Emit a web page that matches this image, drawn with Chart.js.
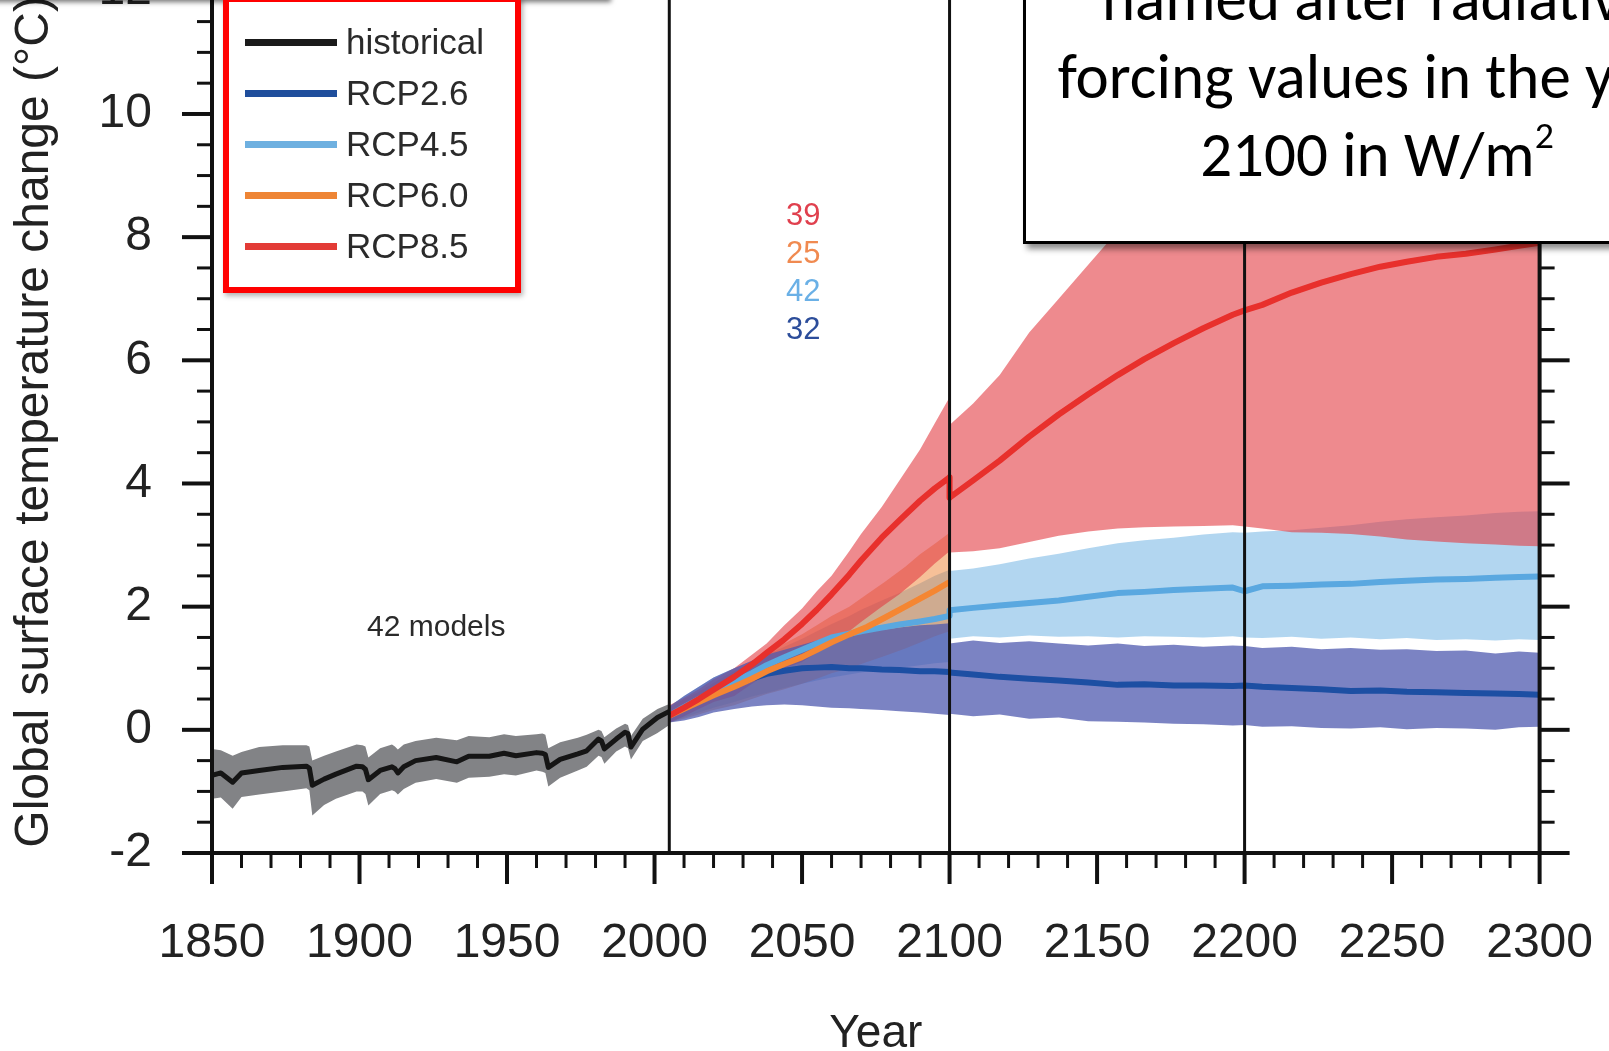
<!DOCTYPE html>
<html>
<head>
<meta charset="utf-8">
<script src="https://cdn.jsdelivr.net/npm/chart.js@4/dist/chart.umd.min.js"></script>
<style>
  html, body { margin:0; padding:0; background:#fff; overflow:hidden; width:1609px; height:1051px; }
  #wrap { position:absolute; left:0; top:-98px; width:1655px; height:1178px; }
  #topShadow { position:absolute; left:-10px; top:-50px; width:621px; height:50px; background:#fff;
               box-shadow:0 2px 5px rgba(0,0,0,0.55); }
  #legend { position:absolute; left:223px; top:-4px; width:298px; height:297px; border:6px solid #ff0000;
            box-sizing:border-box; background:#fff; box-shadow:2px 3px 5px rgba(0,0,0,0.3); }
  .lrow { position:absolute; left:0; height:40px; }
  .lline { position:absolute; left:16px; top:17px; width:92px; height:7px; }
  .ltext { position:absolute; left:117px; top:0; line-height:40px; font-family:"Liberation Sans", Arial, sans-serif;
           font-size:35px; color:#2a2a2a; white-space:nowrap; }
  #note { position:absolute; left:1023px; top:-100px; width:708px; height:344px; box-sizing:border-box;
          border:3px solid #000; background:#fff; box-shadow:4px 5px 6px rgba(0,0,0,0.45);
          font-family:Carlito, Calibri, Lato, "Open Sans", sans-serif; font-size:63px; line-height:78px;
          text-align:center; color:#000; padding-top:57px; }
  #note sup { font-size:0.6em; line-height:0; vertical-align:0.75em; }
</style>
</head>
<body>
<div id="wrap"><canvas id="c" width="1655" height="1178"></canvas></div>
<div id="topShadow"></div>
<div id="legend"></div>
<div id="note">named after radiative<br>forcing values in the year<br>2100 in W/m<sup>2</sup></div>
<script>
// ---------------- DATA ----------------
const histYears = [1850,1853,1857,1860,1866,1874,1882,1883,1884,1888,1892,1899,1901,1902,1903,1907,1911,1912,1913,1915,1919,1926,1933,1937,1944,1949,1953,1960,1962,1963,1964,1968,1974,1977,1981,1982,1983,1987,1990,1991,1992,1996,2001,2005];
const histMean = [-0.74,-0.70,-0.85,-0.70,-0.66,-0.61,-0.59,-0.62,-0.90,-0.80,-0.72,-0.59,-0.60,-0.64,-0.81,-0.66,-0.60,-0.63,-0.70,-0.60,-0.50,-0.45,-0.52,-0.43,-0.43,-0.38,-0.42,-0.37,-0.38,-0.40,-0.61,-0.48,-0.39,-0.34,-0.15,-0.18,-0.31,-0.15,-0.04,-0.06,-0.28,0.01,0.20,0.30];
const histHigh = [-0.31,-0.33,-0.42,-0.36,-0.28,-0.25,-0.25,-0.27,-0.50,-0.42,-0.35,-0.24,-0.25,-0.27,-0.45,-0.30,-0.24,-0.27,-0.32,-0.24,-0.18,-0.13,-0.17,-0.10,-0.12,-0.07,-0.10,-0.07,-0.06,-0.08,-0.30,-0.20,-0.13,-0.08,0.00,-0.02,-0.12,0.02,0.10,0.08,-0.10,0.18,0.34,0.42];
const histLow = [-1.12,-1.10,-1.28,-1.09,-1.05,-1.00,-0.95,-0.98,-1.39,-1.22,-1.12,-1.00,-1.00,-1.04,-1.23,-1.04,-0.98,-1.00,-1.05,-0.96,-0.86,-0.80,-0.86,-0.78,-0.76,-0.72,-0.74,-0.66,-0.68,-0.70,-0.92,-0.78,-0.66,-0.60,-0.42,-0.44,-0.55,-0.35,-0.27,-0.30,-0.48,-0.18,-0.05,0.08];

const futureYears = [2005,2010,2015,2020,2027,2033,2038,2044,2050,2055,2060,2066,2070,2077,2083,2090,2095,2100,
                     2100,2108,2117,2127,2137,2147,2157,2166,2176,2186,2196,2200,2206,2216,2226,2236,2246,2255,2265,2275,2285,2293,2300];

const rcp26Mean = [0.23,0.36,0.48,0.60,0.72,0.83,0.91,0.96,1.00,1.01,1.02,1.00,1.00,0.98,0.97,0.95,0.95,0.94,
                   0.93,0.90,0.86,0.83,0.80,0.77,0.73,0.74,0.72,0.72,0.71,0.72,0.70,0.68,0.66,0.63,0.64,0.62,0.61,0.60,0.59,0.58,0.57];
const rcp26Low  = [0.12,0.15,0.21,0.28,0.34,0.38,0.40,0.41,0.40,0.38,0.36,0.35,0.34,0.32,0.30,0.28,0.26,0.24,
                   0.26,0.22,0.25,0.18,0.20,0.14,0.13,0.12,0.10,0.09,0.07,0.08,0.05,0.06,0.03,0.02,0.04,0.01,0.03,0.02,0.00,0.04,0.05];
const rcp26High = [0.38,0.55,0.70,0.85,1.00,1.12,1.22,1.30,1.38,1.45,1.51,1.55,1.58,1.62,1.66,1.70,1.71,1.73,
                   1.40,1.45,1.41,1.44,1.40,1.37,1.40,1.36,1.38,1.35,1.37,1.36,1.33,1.35,1.31,1.33,1.30,1.31,1.28,1.29,1.24,1.27,1.25];

const rcp45Mean = [0.23,0.37,0.50,0.63,0.78,0.92,1.05,1.18,1.30,1.40,1.50,1.56,1.60,1.66,1.71,1.76,1.80,1.85,
                   1.94,1.98,2.02,2.06,2.10,2.16,2.22,2.24,2.27,2.29,2.31,2.25,2.33,2.34,2.36,2.37,2.40,2.42,2.44,2.45,2.47,2.48,2.49];
const rcp45Low  = [0.12,0.20,0.28,0.36,0.45,0.54,0.60,0.68,0.75,0.80,0.85,0.90,0.93,0.97,1.01,1.05,1.08,1.10,
                   1.48,1.52,1.50,1.53,1.51,1.52,1.50,1.52,1.51,1.50,1.52,1.50,1.49,1.51,1.48,1.50,1.47,1.49,1.46,1.47,1.45,1.47,1.46];
const rcp45High = [0.38,0.55,0.70,0.85,1.00,1.12,1.22,1.35,1.48,1.60,1.72,1.85,1.95,2.10,2.22,2.38,2.50,2.60,
                   2.58,2.62,2.69,2.78,2.86,2.95,3.03,3.08,3.12,3.17,3.21,3.20,3.22,3.24,3.28,3.32,3.38,3.42,3.45,3.48,3.52,3.54,3.55];

const rcp85Mean = [0.23,0.36,0.50,0.65,0.86,1.06,1.25,1.47,1.72,1.95,2.20,2.52,2.75,3.12,3.40,3.72,3.92,4.10,
                   3.77,4.05,4.37,4.76,5.12,5.45,5.76,6.02,6.28,6.52,6.74,6.81,6.90,7.10,7.26,7.40,7.52,7.60,7.68,7.73,7.80,7.86,7.91];
const rcp85Low  = [0.12,0.22,0.34,0.45,0.55,0.75,0.90,1.00,1.10,1.25,1.42,1.60,1.75,2.00,2.20,2.48,2.70,2.90,
                   2.88,2.90,2.95,3.05,3.15,3.22,3.27,3.29,3.30,3.31,3.32,3.30,3.27,3.21,3.20,3.18,3.14,3.09,3.06,3.03,3.01,2.99,2.98];
const rcp85High = [0.40,0.52,0.66,0.82,1.00,1.22,1.40,1.70,1.97,2.25,2.50,2.90,3.18,3.62,4.05,4.55,4.98,5.40,
                   4.95,5.30,5.76,6.45,7.00,7.55,8.10,8.55,8.95,9.30,9.60,9.70,9.85,10.1,10.3,10.5,10.7,10.85,11.0,11.15,11.3,11.4,11.5];

const rcp60Years = [2005,2010,2015,2020,2027,2033,2038,2044,2050,2055,2060,2066,2072,2078,2085,2090,2095,2100];
const rcp60Mean  = [0.23,0.34,0.45,0.56,0.70,0.83,0.95,1.07,1.18,1.30,1.42,1.55,1.67,1.82,2.00,2.13,2.26,2.40];
const rcp60Low   = [0.12,0.18,0.25,0.32,0.40,0.50,0.58,0.66,0.75,0.83,0.92,1.00,1.10,1.20,1.32,1.42,1.52,1.60];
const rcp60High  = [0.36,0.50,0.62,0.76,0.95,1.10,1.24,1.40,1.55,1.70,1.85,2.00,2.20,2.40,2.65,2.85,3.02,3.20];

const seriesNames = ['historical','RCP2.6','RCP4.5','RCP6.0','RCP8.5'];
const modelCounts = ['39','25','42','32'];   // RCP8.5, RCP6.0, RCP4.5, RCP2.6
const modelsNote = '42 models';
const dividerYears = [2005, 2100, 2200];
const xMin = 1850, xMax = 2300, yMin = -2, yMax = 12;

// ---------------- STYLE ----------------
const lineColors = { 'historical':'#151515', 'RCP2.6':'#1d4fa3', 'RCP4.5':'#5aa8e0', 'RCP6.0':'#f58632', 'RCP8.5':'#e8302c' };
const legendColors = { 'historical':'#1a1a1a', 'RCP2.6':'#1f4e9c', 'RCP4.5':'#6eb0e0', 'RCP6.0':'#ee8535', 'RCP8.5':'#e33b36' };
const bandColors = { 'historical':'#828386', 'RCP2.6':'rgba(79,90,175,0.75)', 'RCP4.5':'rgba(101,173,225,0.5)',
                     'RCP6.0':'rgba(238,130,50,0.5)', 'RCP8.5':'rgba(227,60,67,0.6)' };
const countColors = ['#e0404e','#f08a50','#6ab0e6','#2c4d9a'];
const FONT = '"Liberation Sans", Arial, Helvetica, sans-serif';

const pts = (xs, ys) => xs.map((x, i) => ({x, y: ys[i]}));

function band(name, xs, lo, hi, order) {
  return [
    { label: name + ' range', data: pts(xs, hi), borderWidth: 0, pointRadius: 0, order,
      backgroundColor: bandColors[name], fill: { target: '+1', above: bandColors[name], below: bandColors[name] } },
    { label: name + ' low', data: pts(xs, lo), borderWidth: 0, pointRadius: 0, order, fill: false }
  ];
}
function mean(name, xs, ys, order, w) {
  return { label: name, data: pts(xs, ys), borderColor: lineColors[name], borderWidth: w, pointRadius: 0,
           fill: false, order, borderJoinStyle: 'round', borderCapStyle: 'butt' };
}

const datasets = [
  ...band('RCP4.5', futureYears, rcp45Low, rcp45High, 50),
  ...band('RCP6.0', rcp60Years, rcp60Low, rcp60High, 40),
  ...band('RCP8.5', futureYears, rcp85Low, rcp85High, 30),
  ...band('RCP2.6', futureYears, rcp26Low, rcp26High, 20),
  ...band('historical', histYears, histLow, histHigh, 15),
  mean('RCP2.6', futureYears, rcp26Mean, 6, 6),
  mean('RCP4.5', futureYears, rcp45Mean, 5, 6),
  mean('RCP6.0', rcp60Years, rcp60Mean, 4, 6),
  mean('RCP8.5', futureYears, rcp85Mean, 3, 6),
  mean('historical', histYears, histMean, 2, 5)
];

const framePlugin = {
  id: 'frame',
  afterDatasetsDraw(chart) {
    const {ctx, chartArea: a, scales: {x, y}} = chart;
    const seg = (x1, y1, x2, y2) => { ctx.beginPath(); ctx.moveTo(x1, y1); ctx.lineTo(x2, y2); ctx.stroke(); };
    ctx.save();
    ctx.strokeStyle = '#111';
    ctx.lineCap = 'butt';
    ctx.lineWidth = 3;
    dividerYears.forEach(yr => { const px = x.getPixelForValue(yr); seg(px, a.top, px, a.bottom); });
    ctx.lineWidth = 4;
    seg(a.left, a.top, a.left, a.bottom + 2);
    seg(a.right, a.top, a.right, a.bottom + 2);
    seg(a.left - 2, a.bottom, a.right + 2, a.bottom);
    for (let yr = xMin; yr <= xMax; yr += 10) {
      const major = yr % 50 === 0;
      ctx.lineWidth = major ? 4 : 3;
      const px = x.getPixelForValue(yr);
      seg(px, a.bottom, px, a.bottom + (major ? 31 : 15));
    }
    for (let v = yMin; v <= yMax; v += 0.5) {
      const major = v % 2 === 0;
      ctx.lineWidth = major ? 4 : 3;
      const py = y.getPixelForValue(v);
      const len = major ? 30 : 15;
      seg(a.left - len, py, a.left, py);
      seg(a.right, py, a.right + len, py);
    }
    // annotations
    ctx.textAlign = 'center';
    ctx.textBaseline = 'middle';
    ctx.font = '31px ' + FONT;
    const cx = x.getPixelForValue(2050.4);
    const cy = [8.34, 7.72, 7.11, 6.49];
    modelCounts.forEach((t, i) => { ctx.fillStyle = countColors[i]; ctx.fillText(t, cx, y.getPixelForValue(cy[i])); });
    ctx.fillStyle = '#2a2a2a';
    ctx.font = '30px ' + FONT;
    ctx.fillText(modelsNote, x.getPixelForValue(1926), y.getPixelForValue(1.65));
    ctx.restore();
  }
};

new Chart(document.getElementById('c'), {
  type: 'line',
  data: { datasets },
  options: {
    responsive: false, animation: false, devicePixelRatio: 1,
    layout: { padding: 0 },
    plugins: { legend: { display: false }, tooltip: { enabled: false } },
    elements: { line: { tension: 0 } },
    scales: {
      x: {
        type: 'linear', min: xMin, max: xMax,
        grid: { display: false, drawTicks: false }, border: { display: false },
        ticks: { stepSize: 50, padding: 62, color: '#222', font: { size: 48, family: FONT }, maxRotation: 0,
                 autoSkip: false, callback: v => String(v) },
        title: { display: true, text: 'Year', color: '#222', font: { size: 46, family: FONT }, padding: { top: 0, bottom: 18 } },
        afterFit: s => { s.height = 227; }
      },
      y: {
        type: 'linear', min: yMin, max: yMax,
        grid: { display: false, drawTicks: false }, border: { display: false },
        ticks: { stepSize: 2, padding: 60, color: '#222', font: { size: 48, family: FONT }, callback: v => String(v) },
        title: { display: true, text: 'Global surface temperature change (°C)', color: '#222',
                 font: { size: 48, family: FONT }, padding: { top: 6, bottom: 0 } },
        afterFit: s => { s.width = 212; }
      }
    }
  },
  plugins: [framePlugin]
});

// legend overlay
const lg = document.getElementById('legend');
seriesNames.forEach((n, i) => {
  const row = document.createElement('div');
  row.className = 'lrow';
  row.style.top = (40 + i * 51 - 20) + 'px';
  row.innerHTML = '<div class="lline" style="background:' + legendColors[n] + '"></div><div class="ltext">' + n + '</div>';
  lg.appendChild(row);
});
</script>
</body>
</html>
